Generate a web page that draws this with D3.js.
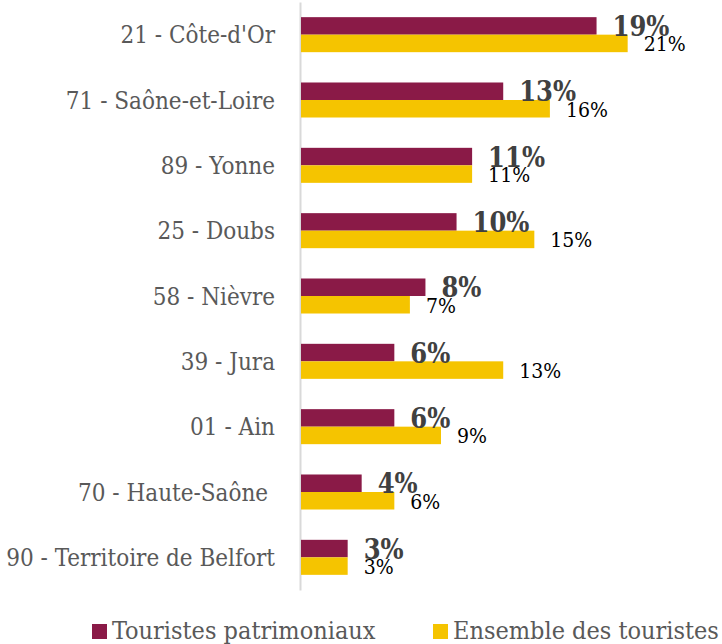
<!DOCTYPE html>
<html>
<head>
<meta charset="utf-8">
<script src="https://cdn.jsdelivr.net/npm/d3@7"></script>
<style>
  html, body { margin: 0; padding: 0; background: #fff; }
  svg { display: block; }
  text { font-family: "DejaVu Serif Condensed", "DejaVu Serif", serif; }
</style>
</head>
<body>
<script>
'use strict';

var categories = ["21 - Côte-d'Or", "71 - Saône-et-Loire", "89 - Yonne", "25 - Doubs",
                  "58 - Nièvre", "39 - Jura", "01 - Ain", "70 - Haute-Saône ",
                  "90 - Territoire de Belfort"];
var patrimoniaux = [19, 13, 11, 10, 8, 6, 6, 3.9, 3];
var ensemble     = [21, 16, 11, 15, 7, 13, 9, 6, 3];
var seriesNames  = ["Touristes patrimoniaux", "Ensemble des touristes"];
var colors       = ["#8a1a47", "#f5c400"];

var width = 722, height = 644,
    margin = {top: 2, right: 1, bottom: 54, left: 301};

var svg = d3.select("body").append("svg")
    .attr("width", width).attr("height", height);

var x = d3.scaleLinear().domain([0, 27]).range([margin.left, width - margin.right]);
var y = d3.scaleBand().domain(categories)
    .range([margin.top, height - margin.bottom])
    .paddingInner(0.464).paddingOuter(0.232);

var bh = y.bandwidth() / 2;

// category axis (the grey vertical line + labels)
var yAxis = svg.append("g")
    .attr("transform", "translate(" + (margin.left - 1) + ",0)")
    .call(d3.axisLeft(y).tickSizeInner(0).tickSizeOuter(0).tickPadding(25));
yAxis.select(".domain").attr("stroke", "#d9d9d9").attr("stroke-width", 2);
yAxis.selectAll("text")
    .attr("fill", "#595959")
    .attr("dy", "0.36em")
    .style("font-size", "24px")
    .style("white-space", "pre")
    .attr("font-family", null);

var rows = categories.map(function(c, i) {
    return {cat: c, vals: [patrimoniaux[i], ensemble[i]]};
});

var g = svg.selectAll("g.row").data(rows).enter().append("g").attr("class", "row");

g.selectAll("rect").data(function(d) { return d.vals; }).enter().append("rect")
    .attr("x", x(0))
    .attr("y", function(v, j) { var d = d3.select(this.parentNode).datum(); return y(d.cat) + j * bh; })
    .attr("width", function(v) { return x(v) - x(0); })
    .attr("height", bh)
    .attr("fill", function(v, j) { return colors[j]; });

// value labels
g.selectAll("text").data(function(d) { return d.vals.map(function(v, j) { return {v: v, j: j, cat: d.cat}; }); })
    .enter().append("text")
    .attr("x", function(d) { return x(d.v) + 16; })
    .attr("y", function(d) { return y(d.cat) + d.j * bh + bh / 2 + (d.j ? 8 : 10); })
    .attr("fill", function(d) { return d.j ? "#000" : "#404040"; })
    .style("font-weight", function(d) { return d.j ? "normal" : "bold"; })
    .style("font-size", function(d) { return d.j ? "21px" : "27px"; })
    .text(function(d) { return Math.round(d.v) + "%"; });

// legend
var legX = [92, 433];
var leg = svg.selectAll("g.leg").data(seriesNames).enter().append("g").attr("class", "leg")
    .attr("transform", function(d, i) { return "translate(" + legX[i] + ",624)"; });
leg.append("rect").attr("width", 15).attr("height", 15)
    .attr("fill", function(d, i) { return colors[i]; });
leg.append("text").attr("x", 20).attr("y", 15)
    .attr("fill", "#595959").style("font-size", "25px")
    .text(function(d) { return d; });
</script>
</body>
</html>
